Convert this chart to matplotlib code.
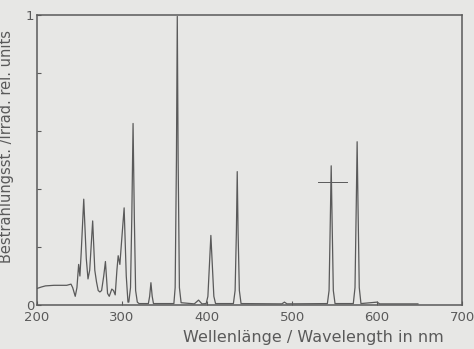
import matplotlib.pyplot as plt
import numpy as np

# spectrum trace (nm, relative irradiance)
wavelength = [200, 205, 210, 220, 235, 240, 242, 245, 247, 249, 250.5, 252, 255, 258, 260, 262,
              265.5, 268, 270, 272, 274, 276, 278.5, 280.5, 283, 285, 288, 290, 292, 294, 295.5,
              297.5, 299, 302.5, 305, 307, 308, 310, 311.5, 313, 314.5, 316, 318, 320, 331,
              332.5, 334, 335.5, 337, 361, 362.5, 364, 365, 366, 367.5, 369.5, 385, 390, 394,
              399, 401, 402.5, 404.5, 406.5, 408, 410, 431, 433, 434.5, 435.5, 436.5, 438, 440,
              488, 491, 494, 541.5, 543.5, 545, 546, 547, 548.5, 550.5, 572, 574, 575.5, 576.5,
              577.5, 579, 581, 600, 603, 648]
irradiance = [0.057, 0.062, 0.066, 0.068, 0.068, 0.072, 0.06, 0.03, 0.06, 0.14, 0.10, 0.18, 0.365,
              0.16, 0.09, 0.12, 0.29, 0.12, 0.08, 0.05, 0.045, 0.05, 0.10, 0.15, 0.04, 0.03, 0.055,
              0.05, 0.035, 0.12, 0.17, 0.14, 0.2, 0.335, 0.1, 0.01, 0.01, 0.06, 0.3, 0.626, 0.3,
              0.05, 0.01, 0.005, 0.005, 0.03, 0.077, 0.03, 0.005, 0.005, 0.06, 0.5, 0.995, 0.5,
              0.06, 0.008, 0.004, 0.017, 0.004, 0.005, 0.03, 0.12, 0.24, 0.12, 0.03, 0.005,
              0.005, 0.05, 0.25, 0.46, 0.25, 0.05, 0.005, 0.004, 0.01, 0.004, 0.005, 0.05, 0.3,
              0.48, 0.3, 0.05, 0.005, 0.005, 0.06, 0.35, 0.563, 0.35, 0.06, 0.005, 0.01, 0.004,
              0.004]

# small cross mark drawn on the original plot
mark_x = [530, 564]
mark_y = [0.425, 0.425]

xticks = [200, 300, 400, 500, 600, 700]
yticks = [0, 0.2, 0.4, 0.6, 0.8, 1]
ylabels = ['0', '', '', '', '', '1']

bg = '#e7e7e5'
ink = '#5a5a5a'

fig = plt.figure(figsize=(4.74, 3.49), dpi=100, facecolor=bg)
ax = fig.add_axes([0.078, 0.126, 0.897, 0.831], facecolor=bg)

ax.plot(wavelength, irradiance, color=ink, lw=0.9)
ax.plot(mark_x, mark_y, color=ink, lw=0.7)

ax.set_xlim(200, 700)
ax.set_ylim(0, 1)
ax.set_xticks(xticks)
ax.set_yticks(yticks)
ax.set_yticklabels(ylabels)
ax.tick_params(direction='in', length=3, colors=ink, labelsize=9.5, pad=4)
ax.tick_params(axis='y', pad=2)
for s in ax.spines.values():
    s.set_color(ink)
    s.set_linewidth(1.1)

ax.set_xlabel('Wellenlänge / Wavelength in nm', color=ink, fontsize=11.5)
ax.xaxis.set_label_coords(0.65, -0.085)
ax.set_ylabel('Bestrahlungsst. /Irrad. rel. units', color=ink, fontsize=10.5)
ax.yaxis.set_label_coords(-0.055, 0.545)

plt.savefig('out.png', dpi=100, facecolor=bg)
